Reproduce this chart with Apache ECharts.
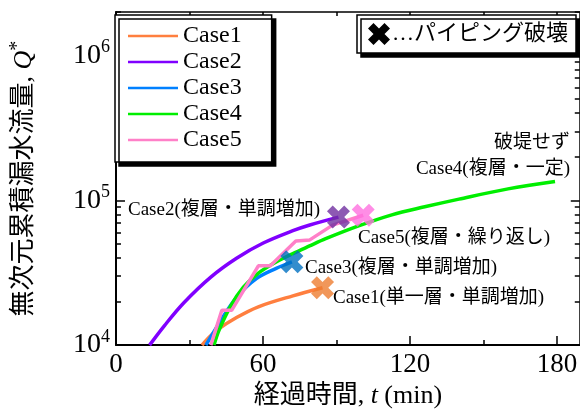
<!DOCTYPE html>
<html>
<head>
<meta charset="utf-8">
<script src="https://cdn.jsdelivr.net/npm/echarts@6/dist/echarts.min.js"></script>
<style>html,body{margin:0;padding:0;background:#fff;}#c{width:580px;height:414px;}</style>
</head>
<body>
<div id="c"></div>
<script>
// ---- data ----
const seriesNames = ['Case1', 'Case2', 'Case3', 'Case4', 'Case5'];
const case1T = [35.1, 37.9, 41.2, 49.2, 58.1, 72.2, 84.3];
const case1Q = [1.0e4, 1.13e4, 1.27e4, 1.55e4, 1.84e4, 2.19e4, 2.49e4];
const case2T = [13.7, 19.8, 27.8, 38.7, 49.2, 60.1, 72.2, 79.1, 90.8];
const case2Q = [1.0e4, 1.365e4, 1.97e4, 2.95e4, 3.98e4, 5.07e4, 6.17e4, 6.76e4, 7.66e4];
const case3T = [36.7, 42.8, 49.2, 57.3, 65.4, 71.8];
const case3Q = [1.0e4, 1.48e4, 2.14e4, 2.88e4, 3.39e4, 3.76e4];
const case4T = [40.0, 42.0, 46.8, 52.0, 58.0, 65.0, 72.0, 79.0, 85.6, 99.3, 112.6, 126.0, 140.0, 160.0, 179.2];
const case4Q = [1.0e4, 1.26e4, 1.86e4, 2.51e4, 3.13e4, 3.72e4, 4.27e4, 4.84e4, 5.43e4, 6.68e4, 7.94e4, 9.02e4, 1.02e5, 1.2e5, 1.35e5];
const case5T = [38.7, 43.2, 47.2, 58.1, 63.0, 73.4, 79.1, 88.4, 100.9];
const case5Q = [1.0e4, 1.74e4, 1.74e4, 3.53e4, 3.53e4, 5.24e4, 5.33e4, 6.74e4, 7.89e4];
const failCases = ['Case1', 'Case2', 'Case3', 'Case5'];
const failT = [84.3, 90.8, 71.8, 100.9];
const failQ = [2.49e4, 7.66e4, 3.76e4, 7.89e4];
const xMajorTicks = [0, 60, 120, 180];
const xMinorTicks = [30, 90, 150];
const yDecades = [4, 5, 6];
const yMinorMult = [2, 3, 4, 5, 6, 7, 8, 9];

// ---- styles ----
const lineColors = ['#ff7f3f', '#8000ff', '#0080ff', '#00ee00', '#ff80c8'];
const failColors = ['#ed7d31', '#7030a0', '#0070c0', '#ff70e0'];
const SERIF = '"Liberation Serif", "Noto Sans CJK JP", serif';
const X_MIN = 0, X_MAX = 189.3, Y_MIN = 1e4, Y_MAX = 2e6;
const xPts = [[25,0],[50,25],[75,0],[100,25],[75,50],[100,75],[75,100],[50,75],[25,100],[0,75],[25,50],[0,25]];
const xPath = 'path://M' + xPts.map(p => p[0] + ',' + p[1]).join(' L') + ' Z';

const allT = [case1T, case2T, case3T, case4T, case5T];
const allQ = [case1Q, case2Q, case3Q, case4Q, case5Q];
const smoothFlags = [0.35, 0.35, 0.35, 0.35, false];

const yMinorLog = [];
yDecades.forEach(d => yMinorMult.forEach(m => { const v = d + Math.log10(m); if (v <= Math.log10(Y_MAX) + 1e-9) yMinorLog.push(v); }));

const chart = echarts.init(document.getElementById('c'), null, {renderer: 'canvas'});

const grid = {left: 111, top: 12, right: 0, bottom: 66};

function xAx(pos, ticks, len, showLine, labels) {
  return {
    type: 'value', min: X_MIN, max: X_MAX, position: pos, gridIndex: 0,
    axisLine: {show: showLine, onZero: false, lineStyle: {color: '#000', width: pos === 'bottom' ? 2 : 1.5}},
    axisTick: {show: true, inside: true, length: len, customValues: ticks, lineStyle: {color: '#000', width: 1.5}},
    axisLabel: labels ? {show: true, customValues: xMajorTicks, margin: 6, color: '#000', fontSize: 27, fontFamily: SERIF} : {show: false},
    splitLine: {show: false}
  };
}
function yAux(pos, ticks, len, showLine) {
  return {
    type: 'value', min: 4, max: Math.log10(Y_MAX), position: pos, gridIndex: 0,
    axisLine: {show: showLine, onZero: false, lineStyle: {color: '#000', width: 1.5}},
    axisTick: {show: true, inside: true, length: len, customValues: ticks, lineStyle: {color: '#000', width: 1.5}},
    axisLabel: {show: false}, splitLine: {show: false}
  };
}

const xAxes = [
  Object.assign(xAx('bottom', xMajorTicks, 9, true, true), {
    name: '経過時間, {i|t} (min)', nameLocation: 'middle', nameGap: 33,
    nameTextStyle: {color: '#000', fontSize: 26, fontFamily: SERIF,
      rich: {i: {fontSize: 26, fontStyle: 'italic', fontFamily: SERIF, color: '#000'}}}
  }),
  xAx('bottom', xMinorTicks, 5, false, false),
  xAx('top', xMajorTicks, 6, true, false),
  xAx('top', xMinorTicks, 4, false, false)
];

const yAxes = [
  {
    type: 'log', logBase: 10, min: Y_MIN, max: Y_MAX, position: 'left', gridIndex: 0,
    axisLine: {show: true, onZero: false, lineStyle: {color: '#000', width: 2}},
    axisTick: {show: false},
    axisLabel: {
      margin: 6, color: '#000',
      formatter: function (v) {
        const e = Math.log10(v);
        if (Math.abs(e - Math.round(e)) > 1e-6) return '';
        return '{b|10}{s|' + Math.round(e) + '}';
      },
      rich: {
        b: {fontSize: 28, fontFamily: SERIF, color: '#000'},
        s: {fontSize: 18, fontFamily: SERIF, color: '#000', padding: [0, 0, 16, 0]}
      }
    },
    splitLine: {show: false},
    name: '無次元累積漏水流量, {i|Q}{s|*}', nameLocation: 'middle', nameGap: 76, nameRotate: 90,
    nameTextStyle: {color: '#000', fontSize: 26, fontFamily: SERIF,
      rich: {
        i: {fontSize: 26, fontStyle: 'italic', fontFamily: SERIF, color: '#000'},
        s: {fontSize: 20, fontFamily: SERIF, color: '#000', padding: [0, 0, 12, 0]}
      }}
  },
  yAux('left', yDecades, 9, false),
  yAux('left', yMinorLog, 5, false),
  yAux('right', yDecades, 9, true),
  yAux('right', yMinorLog, 5, false)
];

const series = seriesNames.map((n, i) => ({
  name: n, type: 'line', xAxisIndex: 0, yAxisIndex: 0,
  data: allT[i].map((t, k) => [t, allQ[i][k]]),
  showSymbol: false, symbol: 'none', smooth: smoothFlags[i],
  lineStyle: {color: lineColors[i], width: 3.5}, itemStyle: {color: lineColors[i]},
  clip: true, z: 2 + i, animation: false
}));
series.push({
  name: 'パイピング破壊', type: 'scatter', xAxisIndex: 0, yAxisIndex: 0,
  symbol: xPath, symbolSize: 23, z: 10, animation: false,
  data: failT.map((t, k) => ({value: [t, failQ[k]], itemStyle: {color: failColors[k]}}))
});

// annotation texts
const annots = [
  {text: '破堤せず', x: 570, y: 143, align: 'right'},
  {text: 'Case4(複層・一定)', x: 570, y: 169, align: 'right'},
  {text: 'Case2(複層・単調増加)', x: 128, y: 210, align: 'left'},
  {text: 'Case5(複層・繰り返し)', x: 358, y: 238, align: 'left'},
  {text: 'Case3(複層・単調増加)', x: 305, y: 268, align: 'left'},
  {text: 'Case1(単一層・単調増加)', x: 333, y: 298, align: 'left'}
];
const graphics = annots.map(a => ({
  type: 'text', x: a.x, y: a.y, z: 20,
  style: {text: a.text, fill: '#000', font: '19px ' + SERIF, textAlign: a.align, textVerticalAlign: 'middle'}
}));
// failure legend box
graphics.push({
  type: 'rect', z: 30, shape: {x: 357, y: 15, width: 219, height: 38},
  style: {fill: '#fff', stroke: '#000', lineWidth: 1.5, shadowColor: '#000', shadowOffsetX: 4, shadowOffsetY: 4, shadowBlur: 0}
});
graphics.push({
  type: 'polygon', z: 31,
  shape: {points: xPts.map(p => [368 + p[0] * 0.22, 23 + p[1] * 0.22])},
  style: {fill: '#000'}
});
graphics.push({
  type: 'text', z: 31, x: 392, y: 34,
  style: {text: '…パイピング破壊', fill: '#000', font: '22px ' + SERIF, textAlign: 'left', textVerticalAlign: 'middle'}
});

chart.setOption({
  animation: false,
  backgroundColor: '#fff',
  grid: grid,
  xAxis: xAxes,
  yAxis: yAxes,
  legend: {
    show: true, data: seriesNames.map(n => ({name: n, icon: 'rect'})), orient: 'vertical', left: 115, top: 15,
    padding: [9, 30, 10, 13], itemWidth: 50, itemHeight: 2.5, itemGap: 2,
    backgroundColor: '#fff', borderColor: '#000', borderWidth: 1.5,
    shadowColor: '#000', shadowOffsetX: 4, shadowOffsetY: 4, shadowBlur: 0,
    selectedMode: false,
    textStyle: {fontSize: 24, lineHeight: 24, fontFamily: SERIF, color: '#000'}
  },
  graphic: graphics,
  series: series
});
</script>
</body>
</html>
